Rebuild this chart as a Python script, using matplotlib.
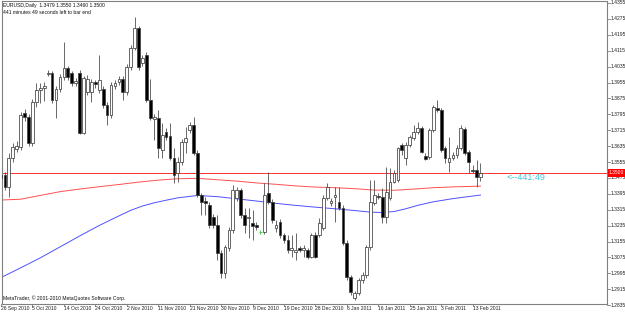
import matplotlib.pyplot as plt
from matplotlib.transforms import blended_transform_factory

# EURUSD daily candles, one per bar (bar 0 = 26 Sep 2010, bar 122 = 15 Feb 2011)
opens = [1.3490, 1.3490, 1.3429, 1.3575, 1.3621, 1.3631, 1.3802, 1.3781, 1.3651, 1.3857,
         1.3917, 1.3927, 1.3998, 1.4003, 1.3867, 1.3922, 1.3983, 1.4028, 1.4003, 1.3953,
         1.4003, 1.3701, 1.3907, 1.3907, 1.3958, 1.3917, 1.3922, 1.3842, 1.3792, 1.3937,
         1.3958, 1.3973, 1.3907, 1.4033, 1.4129, 1.4229, 1.4053, 1.4093, 1.3867, 1.3771,
         1.3776, 1.3615, 1.3706, 1.3686, 1.3575, 1.3500, 1.3555, 1.3656, 1.3716, 1.3741,
         1.3600, 1.3389, 1.3359, 1.3339, 1.3278, 1.3238, 1.3097, 1.2997, 1.3123, 1.3213,
         1.3374, 1.3414, 1.3289, 1.3273, 1.3248, 1.3238, 1.3203, 1.3203, 1.3399, 1.3354,
         1.3223, 1.3253, 1.3188, 1.3163, 1.3112, 1.3102, 1.3123, 1.3112, 1.3112, 1.3077,
         1.3188, 1.3188, 1.3223, 1.3374, 1.3349, 1.3379, 1.3354, 1.3324, 1.3148, 1.2977,
         1.2871, 1.2896, 1.2962, 1.2987, 1.3128, 1.3349, 1.3384, 1.3379, 1.3278, 1.3374,
         1.3455, 1.3465, 1.3641, 1.3575, 1.3641, 1.3676, 1.3706, 1.3726, 1.3585, 1.3580,
         1.3716, 1.3827, 1.3817, 1.3626, 1.3555, 1.3575, 1.3590, 1.3626, 1.3721, 1.3605,
         1.3515, 1.3515, 1.3479]
highs = [1.3500, 1.3505, 1.3600, 1.3651, 1.3661, 1.3807, 1.3822, 1.3797, 1.3872, 1.3953,
         1.3953, 1.3958, 1.4018, 1.4013, 1.3937, 1.3998, 1.4159, 1.4038, 1.4013, 1.3978,
         1.4018, 1.3988, 1.3993, 1.3973, 1.3968, 1.4093, 1.3937, 1.3857, 1.3958, 1.3968,
         1.3988, 1.3988, 1.4048, 1.4144, 1.4284, 1.4239, 1.4093, 1.4108, 1.3973, 1.3797,
         1.3817, 1.3751, 1.3726, 1.3751, 1.3626, 1.3580, 1.3671, 1.3731, 1.3756, 1.3781,
         1.3615, 1.3399, 1.3379, 1.3354, 1.3294, 1.3289, 1.3112, 1.3138, 1.3228, 1.3439,
         1.3429, 1.3424, 1.3324, 1.3324, 1.3314, 1.3253, 1.3213, 1.3450, 1.3505, 1.3369,
         1.3263, 1.3268, 1.3198, 1.3188, 1.3188, 1.3198, 1.3133, 1.3138, 1.3123, 1.3198,
         1.3203, 1.3273, 1.3389, 1.3450, 1.3374, 1.3429, 1.3429, 1.3339, 1.3163, 1.2987,
         1.2906, 1.2972, 1.3002, 1.3138, 1.3465, 1.3465, 1.3399, 1.3424, 1.3530, 1.3525,
         1.3515, 1.3631, 1.3651, 1.3656, 1.3691, 1.3741, 1.3756, 1.3736, 1.3600, 1.3726,
         1.3842, 1.3867, 1.3827, 1.3636, 1.3681, 1.3605, 1.3641, 1.3741, 1.3731, 1.3615,
         1.3540, 1.3565, 1.3550]
lows = [1.3465, 1.3414, 1.3379, 1.3555, 1.3605, 1.3615, 1.3761, 1.3636, 1.3636, 1.3832,
        1.3852, 1.3862, 1.3988, 1.3852, 1.3776, 1.3907, 1.3968, 1.3968, 1.3937, 1.3937,
        1.3696, 1.3696, 1.3892, 1.3857, 1.3927, 1.3902, 1.3827, 1.3741, 1.3776, 1.3922,
        1.3942, 1.3867, 1.3892, 1.4018, 1.4118, 1.4018, 1.4038, 1.3857, 1.3766, 1.3666,
        1.3575, 1.3575, 1.3666, 1.3565, 1.3450, 1.3455, 1.3540, 1.3600, 1.3701, 1.3590,
        1.3379, 1.3289, 1.3289, 1.3223, 1.3223, 1.3062, 1.2972, 1.2972, 1.3107, 1.3198,
        1.3359, 1.3273, 1.3198, 1.3173, 1.3163, 1.3213, 1.3193, 1.3193, 1.3344, 1.3248,
        1.3203, 1.3173, 1.3148, 1.3097, 1.3077, 1.3062, 1.3102, 1.3077, 1.3067, 1.3072,
        1.3072, 1.3178, 1.3213, 1.3364, 1.3334, 1.3253, 1.3314, 1.3138, 1.2962, 1.2886,
        1.2861, 1.2886, 1.2947, 1.2972, 1.3112, 1.3339, 1.3369, 1.3248, 1.3248, 1.3364,
        1.3450, 1.3455, 1.3590, 1.3540, 1.3631, 1.3666, 1.3696, 1.3600, 1.3565, 1.3570,
        1.3706, 1.3807, 1.3605, 1.3550, 1.3505, 1.3565, 1.3575, 1.3615, 1.3590, 1.3500,
        1.3500, 1.3429, 1.3460]
closes = [1.3475, 1.3429, 1.3575, 1.3631, 1.3636, 1.3792, 1.3781, 1.3651, 1.3857, 1.3917,
          1.3927, 1.3937, 1.4003, 1.3867, 1.3922, 1.3983, 1.4028, 1.3983, 1.3953, 1.3963,
          1.3701, 1.3978, 1.3973, 1.3958, 1.3947, 1.3968, 1.3842, 1.3792, 1.3942, 1.3953,
          1.3973, 1.3907, 1.4033, 1.4129, 1.4229, 1.4033, 1.4078, 1.3867, 1.3776, 1.3781,
          1.3626, 1.3691, 1.3681, 1.3575, 1.3490, 1.3555, 1.3656, 1.3676, 1.3741, 1.3600,
          1.3389, 1.3354, 1.3349, 1.3238, 1.3238, 1.3097, 1.2997, 1.3128, 1.3213, 1.3414,
          1.3414, 1.3289, 1.3238, 1.3278, 1.3233, 1.3228, 1.3203, 1.3389, 1.3354, 1.3263,
          1.3238, 1.3188, 1.3163, 1.3112, 1.3123, 1.3112, 1.3112, 1.3123, 1.3077, 1.3188,
          1.3077, 1.3248, 1.3374, 1.3429, 1.3359, 1.3389, 1.3324, 1.3148, 1.2977, 1.2901,
          1.2896, 1.2962, 1.2987, 1.3128, 1.3354, 1.3389, 1.3379, 1.3278, 1.3404, 1.3455,
          1.3500, 1.3626, 1.3615, 1.3641, 1.3681, 1.3706, 1.3726, 1.3605, 1.3570, 1.3716,
          1.3832, 1.3817, 1.3615, 1.3575, 1.3575, 1.3590, 1.3626, 1.3726, 1.3600, 1.3555,
          1.3510, 1.3480, 1.3500]

# moving averages read at a few bars
red_bars = [0, 5, 10, 15, 20, 25, 30, 35, 40, 45, 50, 55, 60, 65, 70, 75, 80, 85, 90,
            95, 100, 105, 110, 115, 122]
red_ma = [1.3364, 1.3368, 1.3387, 1.3406, 1.3419, 1.3431, 1.3442, 1.3454, 1.3464, 1.3471,
          1.3473, 1.3466, 1.3459, 1.3450, 1.3443, 1.3435, 1.3429, 1.3426, 1.3421, 1.3414,
          1.3413, 1.3419, 1.3426, 1.3430, 1.3434]
blue_bars = [0, 5, 10, 15, 20, 25, 30, 33, 36, 39, 42, 45, 50, 55, 60, 65, 70, 75, 80,
             85, 90, 94, 97, 100, 103, 106, 110, 115, 122]
blue_ma = [1.2974, 1.3023, 1.3073, 1.3128, 1.3183, 1.3236, 1.3284, 1.3312, 1.3334, 1.3350,
           1.3363, 1.3375, 1.3387, 1.3381, 1.3370, 1.3359, 1.3347, 1.3337, 1.3328,
           1.3320, 1.3311, 1.3303, 1.3301, 1.3306, 1.3320, 1.3337, 1.3355, 1.3371, 1.3389]

price_ticks = [1.4355, 1.4275, 1.4195, 1.4115, 1.4035, 1.3955, 1.3875, 1.3795, 1.3715, 1.3635,
               1.3555, 1.3475, 1.3395, 1.3315, 1.3235, 1.3155, 1.3075, 1.2995, 1.2915, 1.2835]
date_bars = [0, 8, 16, 24, 32, 40, 48, 56, 64, 72, 80, 88, 96, 104, 112, 120]
date_labels = ['26 Sep 2010', '5 Oct 2010', '14 Oct 2010', '24 Oct 2010', '2 Nov 2010',
               '11 Nov 2010', '21 Nov 2010', '30 Nov 2010', '9 Dec 2010', '19 Dec 2010',
               '28 Dec 2010', '6 Jan 2011', '16 Jan 2011', '25 Jan 2011', '3 Feb 2011',
               '13 Feb 2011']
bid = 1.3500

plt.rcParams['font.family'] = ['Liberation Sans', 'DejaVu Sans']
small = 3.6
grey = '#808080'

fig = plt.figure(figsize=(6.25, 3.15), dpi=100)
fig.patch.set_facecolor('white')
ax = fig.add_axes([2 / 625, 11 / 315, 605 / 625, 303 / 315])
ax.set_xlim(0.254, 154.2)
ax.set_ylim(1.2841, 1.4365)
ax.set_xticks([])
ax.set_yticks([])
for s in ax.spines.values():
    s.set_color(grey)
    s.set_linewidth(0.8)

# bid line and moving averages
ax.axhline(bid, color='#ff3030', lw=0.7, zorder=1)
ax.plot(red_bars, red_ma, color='#ff5050', lw=0.7, zorder=2)
ax.plot(blue_bars, blue_ma, color='#5050ff', lw=0.7, zorder=2)

# candles
for i in range(len(opens)):
    o, h, l, c = opens[i], highs[i], lows[i], closes[i]
    if o == c:
        ax.vlines(i, l, h, color='#30d030', lw=0.6, zorder=3)
        ax.hlines(o, i - 0.4, i + 0.4, color='#30d030', lw=0.6, zorder=4)
        continue
    ax.vlines(i, l, h, color='#404040', lw=0.55, zorder=3)
    fill = 'white' if c > o else 'black'
    ax.bar(i, abs(c - o), bottom=min(o, c), width=0.7, color=fill,
           edgecolor='#404040', linewidth=0.55, zorder=4)

# right price scale
ytr = blended_transform_factory(ax.transAxes, ax.transData)
for p in price_ticks:
    ax.plot([1, 1.005], [p, p], color=grey, lw=0.6, transform=ytr, clip_on=False)
    ax.annotate(f'{p:.4f}', xy=(1, p), xycoords=ytr, xytext=(4, 0),
                textcoords='offset pixels', ha='left', va='center',
                fontsize=small, color='#202020', annotation_clip=False)
ax.annotate(f'{bid:.4f}', xy=(1, bid), xycoords=ytr, xytext=(2, 0),
            textcoords='offset pixels', ha='left', va='center', fontsize=small,
            color='white', annotation_clip=False, zorder=10,
            bbox=dict(boxstyle='square,pad=0.25', fc='#ff0000', ec='none'))

# bottom date scale
xtr = blended_transform_factory(ax.transData, ax.transAxes)
for b, lab in zip(date_bars, date_labels):
    ax.plot([b, b], [0, -0.008], color=grey, lw=0.6, transform=xtr, clip_on=False)
    ax.annotate(lab, xy=(b, 0), xycoords=xtr, xytext=(0, -2),
                textcoords='offset pixels', ha='left', va='top',
                fontsize=small, color='#202020', annotation_clip=False)

# time left to bar end
ax.annotate('<--441:49', xy=(len(opens) - 1, bid), xytext=(26, -5),
            textcoords='offset pixels', ha='left', va='center',
            fontsize=6.5, color='#40c8d8')

fig.text(3 / 625, 1 - 5 / 315, 'EURUSD,Daily  1.3479 1.3550 1.3460 1.3500',
         fontsize=small, va='center', ha='left', color='#101010')
fig.text(3 / 625, 1 - 12 / 315, '441 minutes 49 seconds left to bar end',
         fontsize=small, va='center', ha='left', color='#101010')
fig.text(3 / 625, 1 - 298 / 315, 'MetaTrader, \u00a9 2001-2010 MetaQuotes Software Corp.',
         fontsize=small, va='center', ha='left', color='#101010')

fig.savefig('out.png', dpi=100)
